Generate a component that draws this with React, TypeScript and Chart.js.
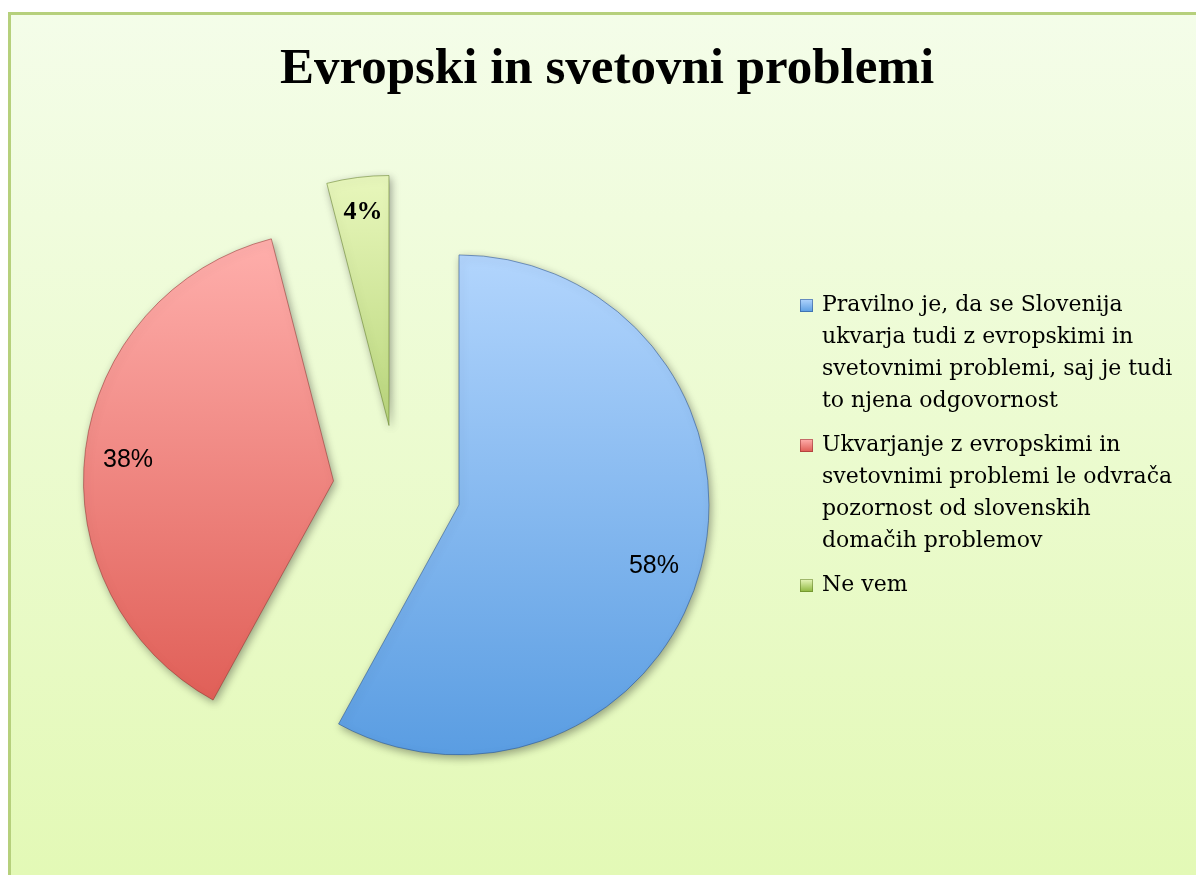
import React, { useEffect, useRef } from "react";
import { Chart, registerables, ArcElement } from "chart.js";
Chart.register(...registerables);

const TITLE = "Evropski in svetovni problemi";
const CATEGORIES: string[][] = [
  ["Pravilno je, da se Slovenija", "ukvarja tudi z evropskimi in", "svetovnimi problemi, saj je tudi", "to njena odgovornost"],
  ["Ukvarjanje z evropskimi in", "svetovnimi problemi le odvrača", "pozornost od slovenskih", "domačih problemov"],
  ["Ne vem"],
];
const VALUES = [58, 38, 4];
const VALUE_LABELS = ["58%", "38%", "4%"];

const TOP_COLORS = ["#b2d5fd", "#ffb0ad", "#e8f7bc"];
const BOTTOM_COLORS = ["#5a9de2", "#de5a52", "#8cb63c"];
const EDGE_COLORS = ["rgba(40,80,140,0.55)", "rgba(140,40,40,0.5)", "rgba(90,120,30,0.5)"];
const LABEL_FONTS = ["25px 'Liberation Sans'", "25px 'Liberation Sans'", "bold 26px 'Liberation Serif'"];
const LABEL_RADIAL = [0.817, 0.826, 0.86];
const LABEL_ANGLE_SHIFT = [2.3, -1.1, 0.2];
const RADIUS = 250;
const EXPLODE = 64;

export default function App() {
  const ref = useRef<HTMLCanvasElement | null>(null);
  useEffect(() => {
    if (!ref.current) return;
    const frame = {
      id: "frame",
      beforeDraw(chart: any) {
        const ctx = chart.ctx as CanvasRenderingContext2D;
        ctx.save();
        ctx.fillStyle = "#ffffff";
        ctx.fillRect(0, 0, chart.width, chart.height);
        const g = ctx.createLinearGradient(0, 13, 0, 875);
        g.addColorStop(0, "#f4fde9");
        g.addColorStop(1, "#e3f9b6");
        ctx.fillStyle = g;
        ctx.fillRect(9, 13, chart.width, chart.height);
        ctx.strokeStyle = "#b6d07c";
        ctx.lineWidth = 3;
        ctx.beginPath();
        ctx.moveTo(9.5, chart.height + 5);
        ctx.lineTo(9.5, 13.5);
        ctx.lineTo(chart.width + 5, 13.5);
        ctx.stroke();
        ctx.fillStyle = "#000";
        ctx.font = "bold 51px 'Liberation Serif'";
        ctx.textAlign = "center";
        ctx.textBaseline = "alphabetic";
        ctx.fillText(TITLE, 607, 83);
        ctx.restore();
      },
      beforeDatasetsDraw(chart: any) {
        const meta = chart.getDatasetMeta(0);
        meta.data.forEach((el: any) => {
          if (el._exploded) return;
          el._exploded = true;
          el.draw = (ctx: CanvasRenderingContext2D) => {
            const half = (el.startAngle + el.endAngle) / 2;
            ctx.save();
            ctx.translate(Math.cos(half) * EXPLODE, Math.sin(half) * EXPLODE);
            ArcElement.prototype.draw.call(el, ctx);
            ctx.restore();
          };
        });
        const ctx = chart.ctx;
        ctx.save();
        ctx.shadowColor = "rgba(0,0,0,0.35)";
        ctx.shadowBlur = 8;
        ctx.shadowOffsetX = 2;
        ctx.shadowOffsetY = 3;
      },
      afterDatasetsDraw(chart: any) {
        chart.ctx.restore();
      },
    };
    const labelsPlugin = {
      id: "valueLabels",
      afterDatasetsDraw(chart: any) {
        const ctx = chart.ctx as CanvasRenderingContext2D;
        const meta = chart.getDatasetMeta(0);
        ctx.save();
        ctx.fillStyle = "#000";
        ctx.textAlign = "center";
        ctx.textBaseline = "middle";
        meta.data.forEach((el: any, i: number) => {
          const half = (el.startAngle + el.endAngle) / 2 + (LABEL_ANGLE_SHIFT[i] * Math.PI) / 180;
          const d = EXPLODE + el.outerRadius * LABEL_RADIAL[i];
          ctx.font = LABEL_FONTS[i];
          ctx.fillText(VALUE_LABELS[i], el.x + Math.cos(half) * d, el.y + Math.sin(half) * d);
        });
        ctx.restore();
      },
    };
    const legendPlugin = {
      id: "wrapLegend",
      afterDraw(chart: any) {
        const ctx = chart.ctx as CanvasRenderingContext2D;
        ctx.save();
        ctx.font = "22px 'DejaVu Serif'";
        ctx.textAlign = "left";
        ctx.textBaseline = "middle";
        let y = 305;
        CATEGORIES.forEach((lines, i) => {
          const g = ctx.createLinearGradient(0, y - 6, 0, y + 7);
          g.addColorStop(0, TOP_COLORS[i]);
          g.addColorStop(1, BOTTOM_COLORS[i]);
          ctx.fillStyle = g;
          ctx.fillRect(800, y - 6, 13, 13);
          ctx.strokeStyle = EDGE_COLORS[i];
          ctx.lineWidth = 1;
          ctx.strokeRect(800.5, y - 5.5, 12, 12);
          ctx.fillStyle = "#000";
          lines.forEach((ln) => {
            ctx.fillText(ln, 822, y);
            y += 32;
          });
          y += 12;
        });
        ctx.restore();
      },
    };
    const chart = new Chart(ref.current, {
      type: "pie",
      data: {
        labels: CATEGORIES,
        datasets: [
          {
            data: VALUES,
            clip: false as any,
            offset: 0,
            hoverOffset: 0,
            borderWidth: 1,
            borderColor: EDGE_COLORS,
            backgroundColor: (c: any) => {
              const chart = c.chart;
              const area = chart.chartArea;
              const i = c.dataIndex;
              if (!area || i === undefined) return TOP_COLORS[0];
              const cy = (area.top + area.bottom) / 2;
              const g = chart.ctx.createLinearGradient(0, cy - RADIUS, 0, cy + RADIUS);
              g.addColorStop(0, TOP_COLORS[i]);
              g.addColorStop(1, BOTTOM_COLORS[i]);
              return g;
            },
          } as any,
        ],
      },
      options: {
        responsive: false,
        animation: false,
        radius: RADIUS,
        layout: { padding: { left: 97, right: 499, top: 189, bottom: 86 } },
        plugins: {
          legend: { display: false },
          title: { display: false },
          tooltip: { enabled: false },
        },
      } as any,
      plugins: [frame, labelsPlugin, legendPlugin],
    });
    return () => chart.destroy();
  }, []);
  return (
    <canvas
      ref={ref}
      width={1196}
      height={875}
      style={{ position: "fixed", left: 0, top: 0, width: 1196, height: 875 }}
    />
  );
}
